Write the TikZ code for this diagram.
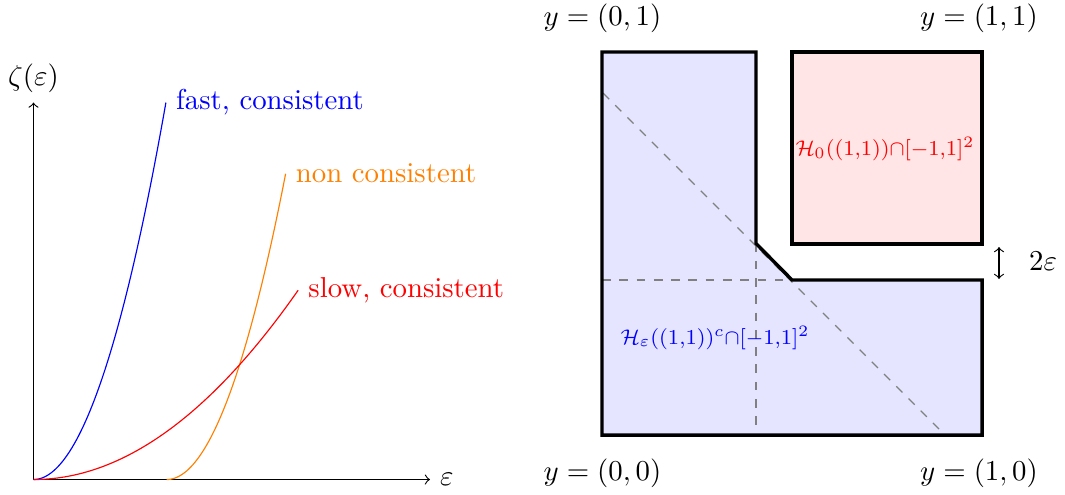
\documentclass[tikz,border=0pt]{standalone}
\usepackage{amsmath}
\begin{document}
\begin{tikzpicture}[x=0.3472pt,y=-0.3472pt,
  curve/.style={line width=0.4pt},
  border/.style={line width=1.2pt, line join=miter},
  guide/.style={gray, dashed, line width=0.4pt},
  setlab/.style={font=\footnotesize, scale=0.92}]
\useasboundingbox (0,0) rectangle (1065,494);
% ---------- left plot ----------
\coordinate (O) at (33.5,479.5);
\coordinate (XE) at (430,479.5);
\coordinate (YE) at (33.5,102.5);
\draw[->] (O) -- (XE) node[right] (xl) {$\varepsilon$};
\draw[->] (O) -- (YE) node[above] (yl) {$\zeta(\varepsilon)$};
\draw[curve, blue] plot[domain=0:1, samples=60] ({33.5+132.5*\x},{479.5-377.5*\x*\x});
\coordinate (fe) at (166,102);
\node[right, text=blue] (fast) at (fe) {fast, consistent};
\draw[curve, orange] plot[domain=0:1, samples=60] ({166.7+119*\x},{479.5-306.2*\x*\x});
\coordinate (ne) at (285.7,173.3);
\node[right, text=orange] (non) at (ne) {non consistent};
\draw[curve, red] plot[domain=0:1, samples=60] ({33.5+264.8*\x},{479.5-189.5*\x*\x});
\coordinate (se) at (298.3,290);
\node[right, text=red] (slow) at (se) {slow, consistent};
% ---------- right figure ----------
\fill[blue!10] (602,52) -- (756,52) -- (756,243.5) -- (792,280) -- (982,280) -- (982,435) -- (602,435) -- cycle;
\fill[red!10] (792,52) rectangle (982,244);
\coordinate (d1) at (603,93);
\coordinate (d2) at (943,433);
\coordinate (h1) at (602,280);
\coordinate (h2) at (982,280);
\coordinate (v1) at (756,243.5);
\coordinate (v2) at (756,435);
\draw[guide] (d1) -- (d2);
\draw[guide] (h1) -- (h2);
\draw[guide] (v1) -- (v2);
\draw[border] (602,52) -- (756,52) -- (756,243.5) -- (792,280) -- (982,280) -- (982,435) -- (602,435) -- cycle;
\draw[border] (792,52) rectangle (982,244);
\node[setlab, text=red] (hr) at (885,149) {$\mathcal{H}_0((1{,}1)){\cap}[-1{,}1]^2$};
\node[setlab, text=blue] (hb) at (715,338) {$\mathcal{H}_\varepsilon((1{,}1))^c{\cap}[-1{,}1]^2$};
\node (y01) at (602.5,18.3) {$y=(0,1)$};
\node (y11) at (979,18.3) {$y=(1,1)$};
\node (y00) at (602.5,473) {$y=(0,0)$};
\node (y10) at (979,473) {$y=(1,0)$};
\coordinate (a1) at (999,247);
\coordinate (a2) at (999,279);
\draw[<->] (a1) -- (a2);
\node (eps2) at (1043,261) {$2\varepsilon$};
\end{tikzpicture}
\end{document}
